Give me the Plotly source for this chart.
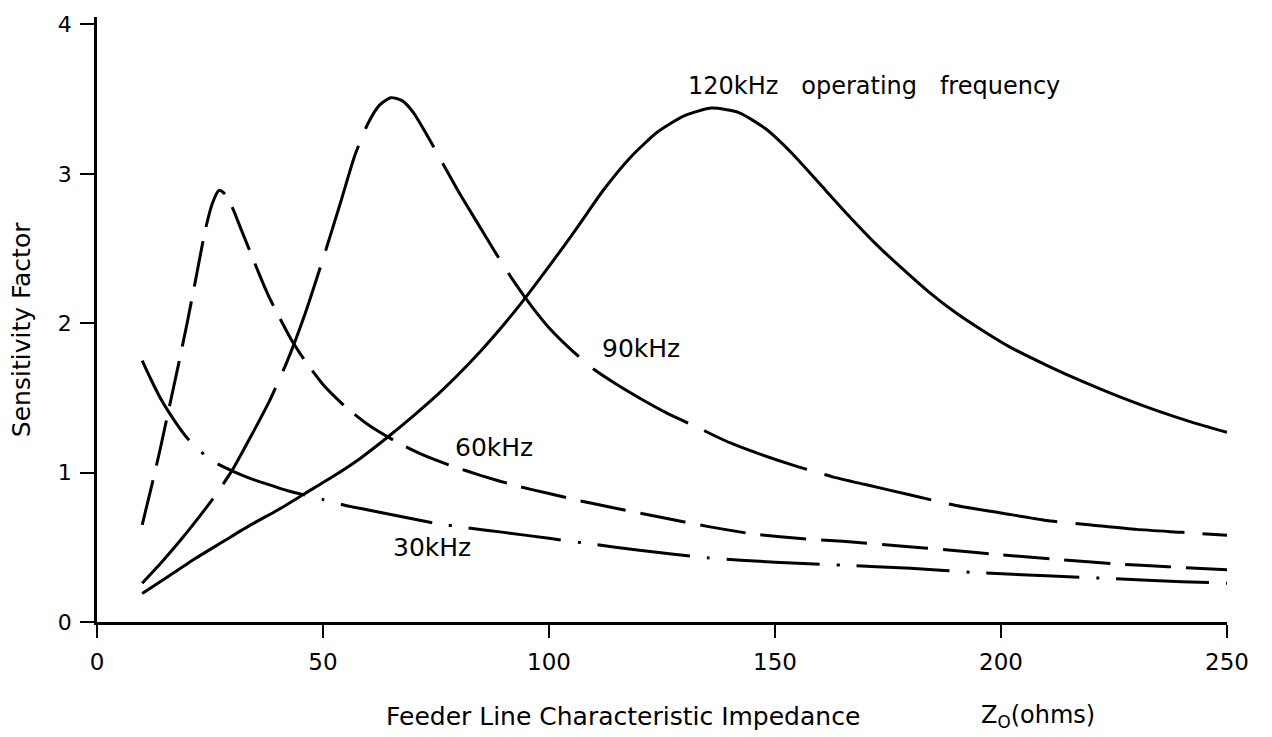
import plotly.graph_objects as go

# ---- data ----
x_120 = [10, 16, 22, 28, 34, 40, 46, 52, 58, 64, 70, 76, 82, 88, 94, 100, 106, 112, 118, 124, 130, 136,
         142, 148, 154, 160, 166, 172, 178, 184, 190, 196, 202, 210, 218, 226, 234, 242, 250]
y_120 = [0.19, 0.31, 0.43, 0.54, 0.65, 0.75, 0.86, 0.97, 1.09, 1.23, 1.38, 1.54, 1.72, 1.92, 2.14, 2.38,
         2.63, 2.89, 3.11, 3.28, 3.39, 3.44, 3.41, 3.30, 3.13, 2.93, 2.73, 2.54, 2.37, 2.21, 2.07, 1.95,
         1.84, 1.72, 1.61, 1.51, 1.42, 1.34, 1.27]

x_90 = [10, 14, 18, 22, 26, 30, 34, 38, 42, 46, 50, 54, 57, 60, 62.5, 65, 67.5, 70, 73, 76.5, 80, 84, 88,
        92, 96, 100, 105, 110, 115, 120, 126, 133, 140, 147, 155, 163, 170, 180, 190, 200, 210, 220, 230,
        240, 250]
y_90 = [0.26, 0.39, 0.53, 0.68, 0.84, 1.02, 1.24, 1.47, 1.74, 2.06, 2.43, 2.82, 3.12, 3.34, 3.46, 3.51,
        3.49, 3.41, 3.26, 3.07, 2.88, 2.68, 2.48, 2.29, 2.12, 1.97, 1.82, 1.69, 1.59, 1.50, 1.40, 1.30,
        1.20, 1.12, 1.04, 0.97, 0.92, 0.85, 0.78, 0.73, 0.68, 0.65, 0.62, 0.60, 0.58]

x_60 = [10, 12, 14, 16, 18, 20, 22, 24, 25.5, 27, 28.5, 30, 32, 34, 36, 38, 40, 43, 46, 50, 55, 60, 66, 72,
        78, 85, 93, 100, 107, 115, 125, 135, 145, 155, 165, 177, 189, 200, 212, 225, 237, 250]
y_60 = [0.65, 0.90, 1.16, 1.44, 1.72, 2.01, 2.32, 2.63, 2.80, 2.89, 2.86, 2.77, 2.62, 2.47, 2.32, 2.18,
        2.06, 1.89, 1.75, 1.59, 1.44, 1.32, 1.21, 1.12, 1.05, 0.98, 0.91, 0.86, 0.81, 0.76, 0.70, 0.64,
        0.59, 0.56, 0.54, 0.51, 0.48, 0.45, 0.42, 0.39, 0.37, 0.35]

x_30 = [10, 12, 14, 16, 18, 20, 23, 26, 30, 34, 38, 42, 46, 50, 55, 60, 65, 70, 75, 82, 90, 100, 110, 120,
        135, 150, 165, 180, 195, 210, 225, 240, 250]
y_30 = [1.75, 1.62, 1.50, 1.40, 1.31, 1.23, 1.14, 1.07, 1.01, 0.96, 0.92, 0.88, 0.85, 0.82, 0.78, 0.75,
        0.72, 0.69, 0.66, 0.63, 0.60, 0.56, 0.52, 0.48, 0.43, 0.40, 0.38, 0.36, 0.33, 0.31, 0.29, 0.27, 0.26]

x_ticks = [0, 50, 100, 150, 200, 250]
y_ticks = [0, 1, 2, 3, 4]

labels = ["120kHz&nbsp;&nbsp;&nbsp;operating&nbsp;&nbsp;&nbsp;frequency", "90kHz", "60kHz", "30kHz"]
label_x = [171.9, 120.4, 87.8, 74.1]
label_y = [3.59, 1.83, 1.17, 0.50]
label_size = [24, 25, 25, 25]

FONT = "DejaVu Sans"

fig = go.Figure()
series = [
    (x_120, y_120, "solid"),
    (x_90, y_90, "110px,18px"),
    (x_60, y_60, "46px,15px"),
    (x_30, y_30, "93px,17px,3px,17px"),
]
for xs, ys, dash in series:
    fig.add_trace(go.Scatter(x=xs, y=ys, mode="lines",
                             line=dict(color="black", width=3, dash=dash, shape="spline", smoothing=0.6),
                             showlegend=False, hoverinfo="skip"))

for t, lx, ly, sz in zip(labels, label_x, label_y, label_size):
    fig.add_annotation(x=lx, y=ly, xref="x", yref="y", text=t, showarrow=False,
                       xanchor="center", yanchor="middle",
                       font=dict(family=FONT, size=sz, color="black"))

# axis titles
title_y = (622 - 717) / 607
fig.add_annotation(x=116.4, y=title_y, xref="x", yref="paper", text="Feeder Line Characteristic Impedance",
                   showarrow=False, xanchor="center", yanchor="middle",
                   font=dict(family=FONT, size=25, color="black"))
fig.add_annotation(x=208.2, y=title_y, xref="x", yref="paper", text="Z<sub>O</sub>(ohms)",
                   showarrow=False, xanchor="center", yanchor="middle",
                   font=dict(family=FONT, size=24, color="black"))
fig.add_annotation(x=-0.0673, y=1.96, xref="paper", yref="y", text="Sensitivity Factor", textangle=-90,
                   showarrow=False, xanchor="center", yanchor="middle",
                   font=dict(family=FONT, size=25, color="black"))

fig.update_layout(
    width=1272, height=737,
    margin=dict(l=97, r=45, t=15, b=115),
    paper_bgcolor="white", plot_bgcolor="white",
    font=dict(family=FONT, color="black"),
    xaxis=dict(range=[0, 250], tickvals=x_ticks, ticktext=[str(v) for v in x_ticks],
               showgrid=False, zeroline=False, showline=True, linecolor="black", linewidth=3,
               ticks="outside", ticklen=13, tickwidth=2, tickcolor="black",
               tickfont=dict(family=FONT, size=23, color="black"), ticklabelstandoff=4),
    yaxis=dict(range=[0, 4.05], tickvals=y_ticks, ticktext=[str(v) for v in y_ticks],
               showgrid=False, zeroline=False, showline=True, linecolor="black", linewidth=2.5,
               ticks="outside", ticklen=14, tickwidth=2, tickcolor="black",
               tickfont=dict(family=FONT, size=22, color="black"), ticklabelstandoff=4),
)

fig.write_html("out.html")
